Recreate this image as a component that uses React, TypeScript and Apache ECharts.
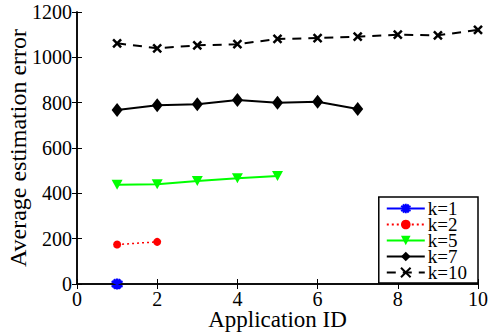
import React, { useEffect, useRef } from "react";
import * as echarts from "echarts";

const appIds = [1, 2, 3, 4, 5, 6, 7, 8, 9, 10];
const k1 = [0];
const k2 = [174, 186];
const k5 = [438, 440, 454, 467, 477];
const k7 = [768, 789, 793, 812, 800, 804, 772];
const k10 = [1062, 1040, 1053, 1058, 1081, 1085, 1091, 1100, 1097, 1121];
const xTicks = { min: 0, max: 10, interval: 2 };
const yTicks = { min: 0, max: 1200, interval: 200 };

const pairs = (vals: number[]) => vals.map((v, i) => [appIds[i], v]);

const FONT = "Liberation Serif";

export default function App() {
  const ref = useRef<HTMLDivElement>(null);
  useEffect(() => {
    if (!ref.current) return;
    const chart = echarts.init(ref.current, undefined, { renderer: "svg" });
    const axisLine = { show: true, lineStyle: { color: "#000", width: 1.5 } };
    const tick = { show: true, inside: true, length: 5, lineStyle: { color: "#000", width: 1 } };
    const label = { color: "#000", fontFamily: FONT, fontSize: 20, formatter: (v: number) => String(v) };
    chart.setOption({
      animation: false,
      backgroundColor: "#fff",
      grid: { left: 77, right: 11, top: 12, bottom: 49, containLabel: false, outerBoundsMode: "none" },
      legend: {
        orient: "vertical",
        right: 11,
        top: 197,
        backgroundColor: "#fff",
        borderColor: "#000",
        borderWidth: 1.5,
        borderRadius: 0,
        padding: [2, 11, 1, 7],
        itemGap: -3,
        itemWidth: 38,
        itemHeight: 12,
        textStyle: { color: "#000", fontFamily: FONT, fontSize: 19, padding: [0, 0, 0, -2] },
        data: ["k=1", "k=2", "k=5", "k=7", "k=10"],
      },
      xAxis: [
        {
          type: "value",
          ...xTicks,
          position: "bottom",
          axisLine,
          axisTick: tick,
          splitLine: { show: false },
          axisLabel: { ...label, margin: 5 },
          name: "Application ID",
          nameLocation: "middle",
          nameGap: 24,
          nameMoveOverlap: false,
          nameTextStyle: { color: "#000", fontFamily: FONT, fontSize: 23 },
        },
        {
          type: "value",
          ...xTicks,
          position: "top",
          axisLine,
          axisTick: tick,
          splitLine: { show: false },
          axisLabel: { show: false },
        },
      ],
      yAxis: [
        {
          type: "value",
          ...yTicks,
          position: "left",
          axisLine,
          axisTick: tick,
          splitLine: { show: false },
          axisLabel: { ...label, margin: 5 },
          name: "Average estimation error",
          nameLocation: "middle",
          nameGap: 47,
          nameMoveOverlap: false,
          nameTextStyle: { color: "#000", fontFamily: FONT, fontSize: 24 },
        },
        {
          type: "value",
          ...yTicks,
          position: "right",
          axisLine,
          axisTick: tick,
          splitLine: { show: false },
          axisLabel: { show: false },
        },
      ],
      series: [
        {
          name: "k=1",
          type: "line",
          data: pairs(k1),
          symbol: "path://M0,-1 L0,1 M-0.87,-0.5 L0.87,0.5 M-0.87,0.5 L0.87,-0.5 M-0.5,-0.87 L0.5,0.87 M-0.5,0.87 L0.5,-0.87",
          symbolSize: 11,
          lineStyle: { color: "#0000ff", width: 2 },
          itemStyle: { color: "#0000ff", borderColor: "#0000ff", borderWidth: 2.5 },
        },
        {
          name: "k=2",
          type: "line",
          data: pairs(k2),
          symbol: "circle",
          symbolSize: 8,
          lineStyle: { color: "#ff0000", width: 1.5, type: [2, 3] },
          itemStyle: { color: "#ff0000" },
        },
        {
          name: "k=5",
          type: "line",
          data: pairs(k5),
          symbol: "triangle",
          symbolRotate: 180,
          symbolSize: [11, 10],
          lineStyle: { color: "#00ff00", width: 2 },
          itemStyle: { color: "#00ff00" },
        },
        {
          name: "k=7",
          type: "line",
          data: pairs(k7),
          symbol: "diamond",
          symbolSize: [11, 14],
          lineStyle: { color: "#000", width: 2 },
          itemStyle: { color: "#000" },
        },
        {
          name: "k=10",
          type: "line",
          data: pairs(k10),
          symbol: "path://M-1,-1 L1,1 M-1,1 L1,-1",
          symbolSize: 8,
          lineStyle: { color: "#000", width: 2, type: [9, 7] },
          itemStyle: { color: "#000", borderColor: "#000", borderWidth: 2.5 },
        },
      ],
    });
    return () => chart.dispose();
  }, []);
  return <div ref={ref} style={{ width: 489, height: 333, position: "absolute", left: 0, top: 0 }} />;
}
